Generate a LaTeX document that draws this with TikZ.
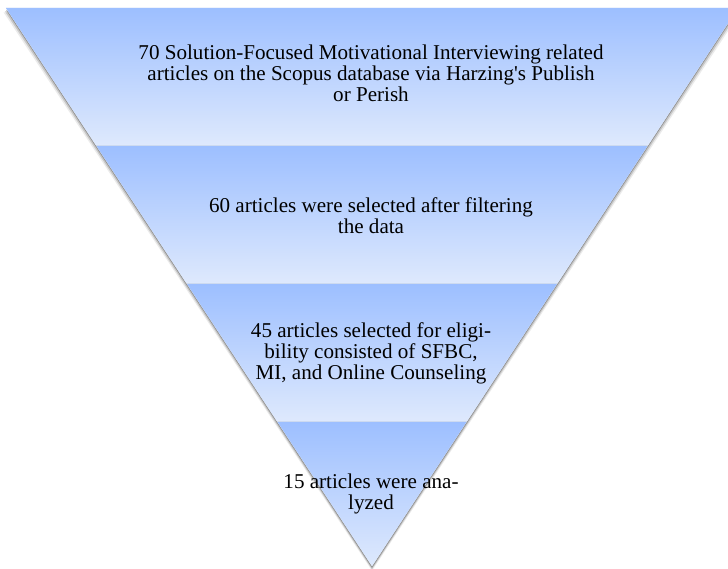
\documentclass[tikz,border=0pt]{standalone}
\usepackage{fontspec}
\setmainfont{Liberation Serif}
\definecolor{bandtop}{RGB}{157,191,255}
\definecolor{bandbot}{RGB}{222,233,253}
\definecolor{bandgap}{RGB}{212,222,238}
\tikzset{
  band/.style={top color=bandtop, bottom color=bandbot, draw=none},
  shadowlayer/.style={fill=black, draw=none},
  bandtext/.style={font=\fontsize{15}{15}\selectfont, align=center, inner sep=0pt},
}
\begin{document}
\begin{tikzpicture}
\useasboundingbox (0,0) rectangle (18.2,14.225);
% soft shadow under the funnel
\fill[shadowlayer, opacity=0.25] (0.150,13.975) -- (18.450,13.975) -- (9.300,0.025) -- cycle;
\fill[shadowlayer, opacity=0.15] (0.120,13.945) -- (18.480,13.945) -- (9.300,-0.010) -- cycle;
\fill[shadowlayer, opacity=0.08] (0.090,13.915) -- (18.510,13.915) -- (9.300,-0.045) -- cycle;
\fill[white] (0.150,14.025) -- (18.450,14.025) -- (9.300,0.075) -- cycle;
\fill[bandgap] (0.150,14.025) -- (18.450,14.025) -- (9.300,0.075) -- cycle;
% four bands
\shade[band] (0.150,14.025) -- (18.450,14.025) -- (16.204,10.600) -- (2.397,10.600) -- cycle;
\shade[band] (2.413,10.575) -- (16.187,10.575) -- (13.941,7.150) -- (4.659,7.150) -- cycle;
\shade[band] (4.676,7.125) -- (13.924,7.125) -- (11.678,3.700) -- (6.922,3.700) -- cycle;
\shade[band] (6.939,3.675) -- (11.662,3.675) -- (9.300,0.075) -- cycle;
% labels
\node[bandtext] (stepone) at (9.275,12.400) {70 Solution-Focused Motivational Interviewing related\\articles on the Scopus database via Harzing\textquotesingle s Publish\\or Perish};
\node[bandtext] (steptwo) at (9.275,8.825) {60 articles were selected after filtering\\the data};
\node[bandtext] (stepthree) at (9.275,5.400) {45 articles selected for eligi-\\bility consisted of SFBC,\\MI, and Online Counseling};
\node[bandtext] (stepfour) at (9.275,1.875) {15 articles were ana-\\lyzed};
\end{tikzpicture}
\end{document}
